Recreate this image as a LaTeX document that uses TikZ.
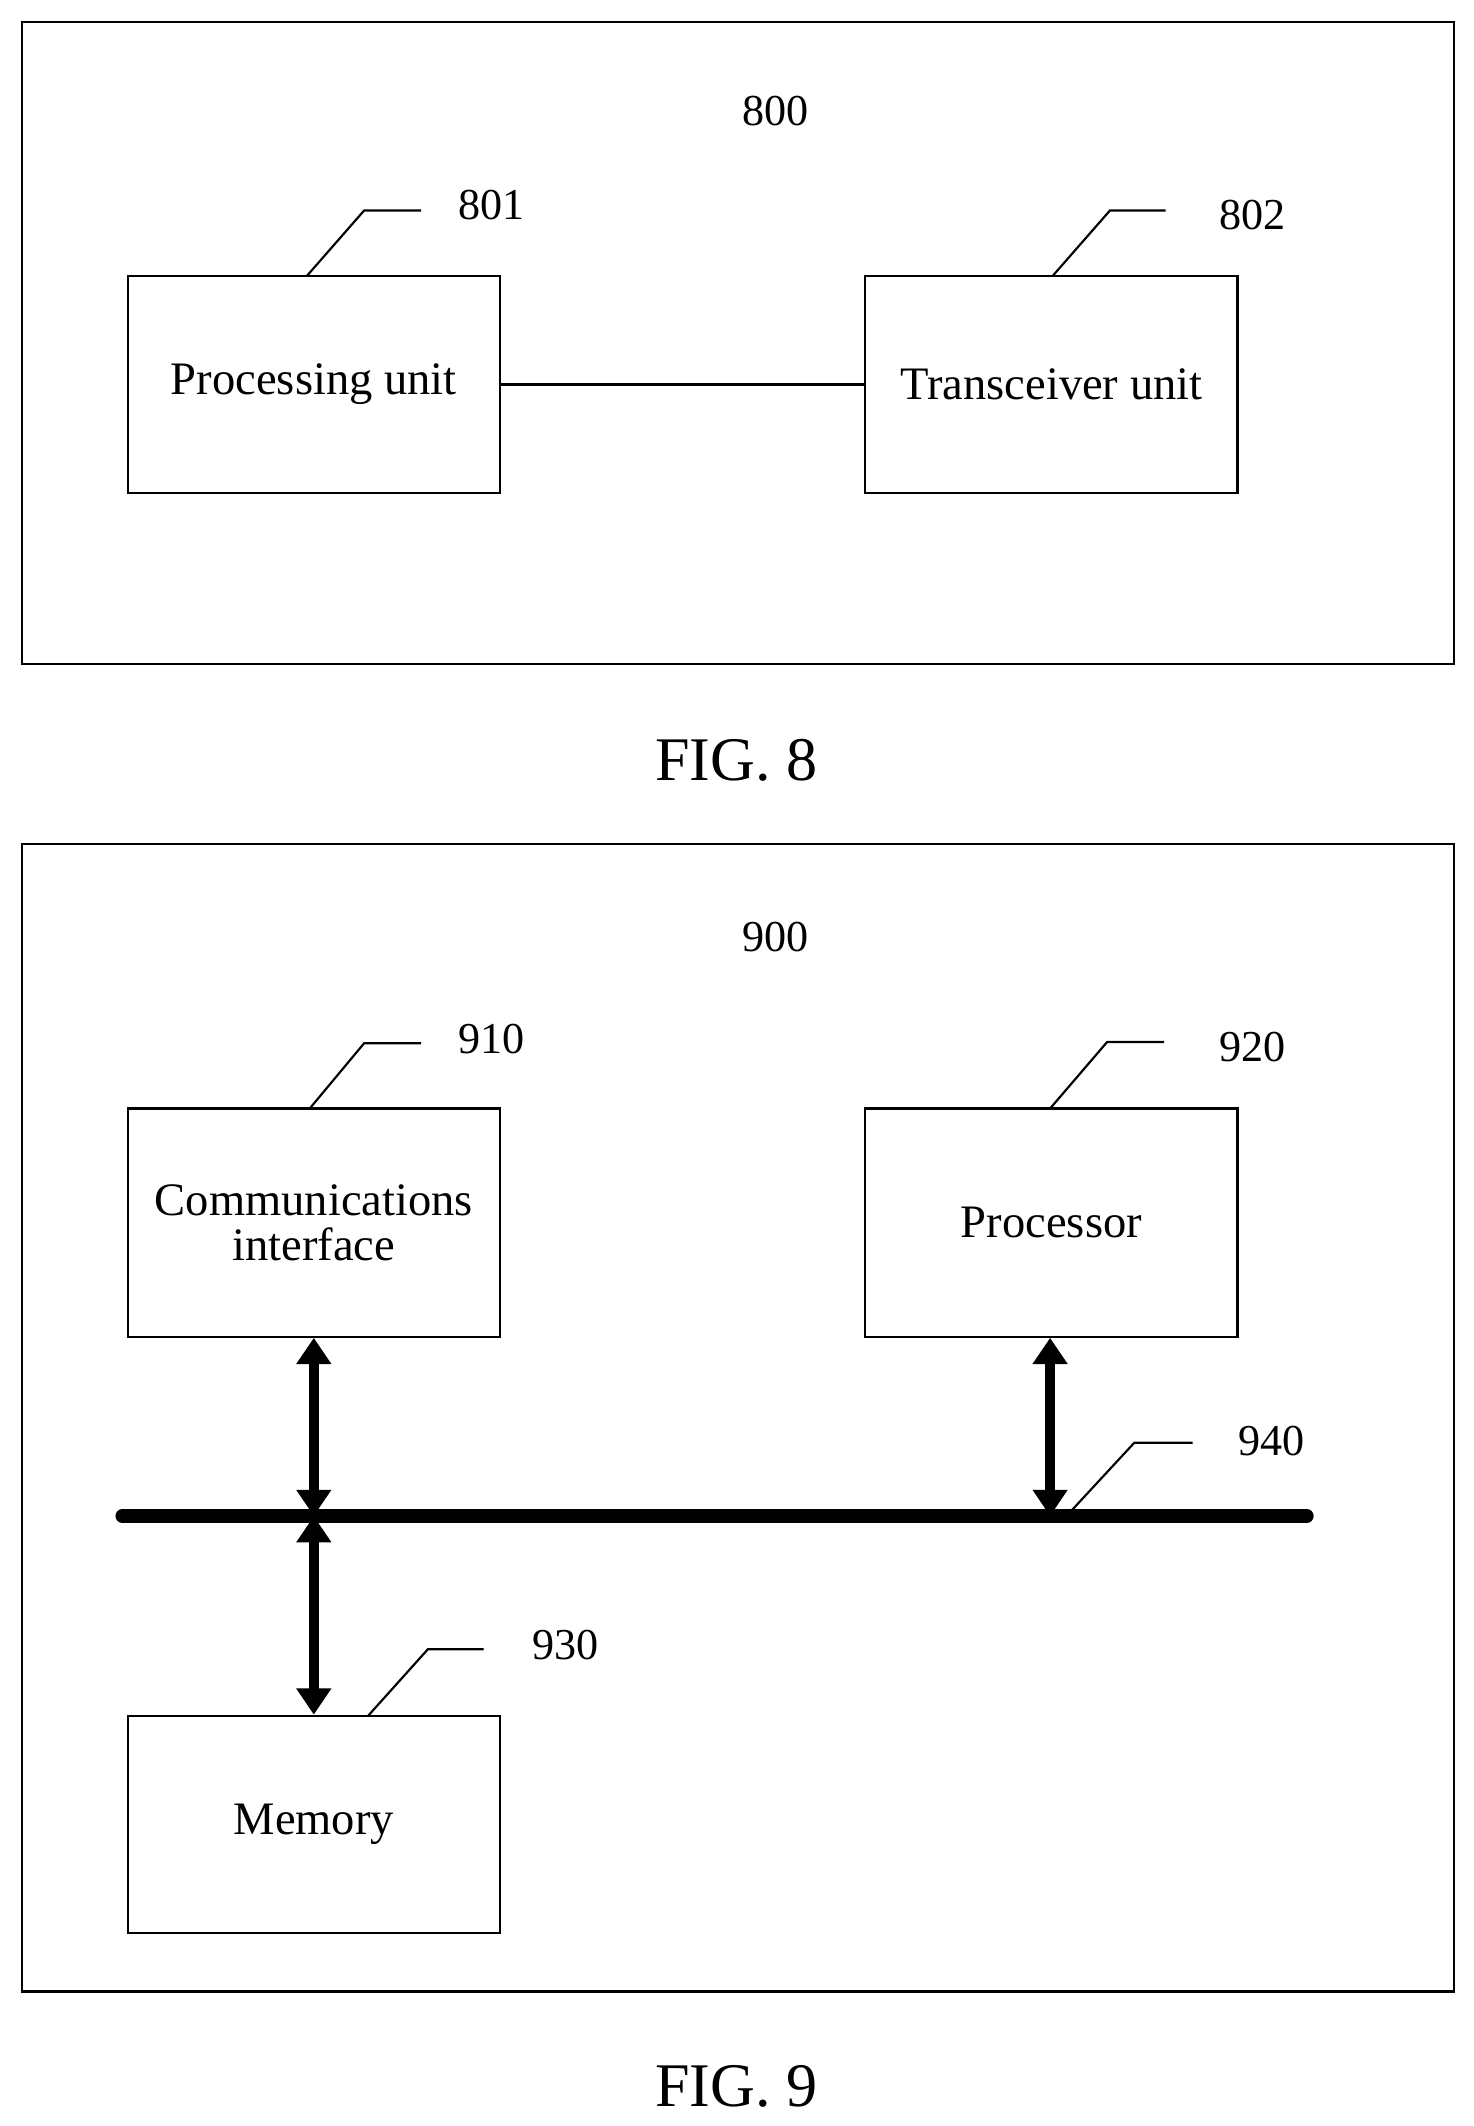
\documentclass[tikz,border=0pt]{standalone}
\usepackage{fontspec}
\setmainfont{Liberation Serif}
\usetikzlibrary{arrows.meta}
\begin{document}
\begin{tikzpicture}[x=0.02cm,y=-0.02cm,
	unit/.style={draw,line width=0.9pt,minimum width=5.48cm,minimum height=3.2cm,align=center,font=\fontsize{19.5}{22}\selectfont},
	ref/.style={font=\fontsize{18.5}{22}\selectfont},
	lead/.style={line width=0.9pt},
	dbl/.style={line width=4.3pt,{Triangle[length=11pt,width=14pt]}-{Triangle[length=11pt,width=14pt]}}]
	\useasboundingbox (0,0) rectangle (1085,1565);
	%FIG. 8
	\draw[lead] (16,16) rectangle (1070,489);
	\node[ref] (n800) at (571,82) {800};
	\node[unit] (proc) at (231,283) {Processing unit};
	\node[unit] (trx) at (774,283) {Transceiver unit};
	\draw[lead] (proc) -- (trx);
	\draw[lead] (226,203) -- (268,155) -- (310,155);
	\node[ref] (n801) at (362,151) {801};
	\draw[lead] (775,203) -- (817,155) -- (858,155);
	\node[ref] (n802) at (922,158) {802};
	\node[font=\fontsize{26}{30}\selectfont] (fig8) at (542,560) {FIG. 8};
	%FIG. 9
	\draw[lead] (16,621) rectangle (1070,1466);
	\node[ref] (n900) at (571,690) {900};
	\node[unit,minimum height=3.36cm] (comm) at (231,900) {Communications\\[-3pt]interface};
	\node[unit,minimum height=3.36cm] (cpu) at (774,900) {Processor};
	\node[unit] (mem) at (231,1343) {Memory};
	\coordinate (busL) at (90,1116);
	\coordinate (busR) at (962,1116);
	\draw[line width=5.7pt,line cap=round] (busL) -- (busR);
	\coordinate (jc) at (231,1116);
	\coordinate (jp) at (773,1116);
	\draw[dbl] (comm.south) -- (jc);
	\draw[dbl] (jc) -- (mem.north);
	\draw[dbl] (cpu.south -| jp) -- (jp);
	\draw[lead] (228,816) -- (268,768) -- (310,768);
	\node[ref] (n910) at (362,765) {910};
	\draw[lead] (773,816) -- (815,767) -- (857,767);
	\node[ref] (n920) at (922,771) {920};
	\draw[lead] (785,1116) -- (835,1062) -- (878,1062);
	\node[ref] (n940) at (936,1061) {940};
	\draw[lead] (271,1263) -- (315,1214) -- (356,1214);
	\node[ref] (n930) at (416,1211) {930};
	\node[font=\fontsize{26}{30}\selectfont] (fig9) at (542,1536) {FIG. 9};
\end{tikzpicture}
\end{document}
